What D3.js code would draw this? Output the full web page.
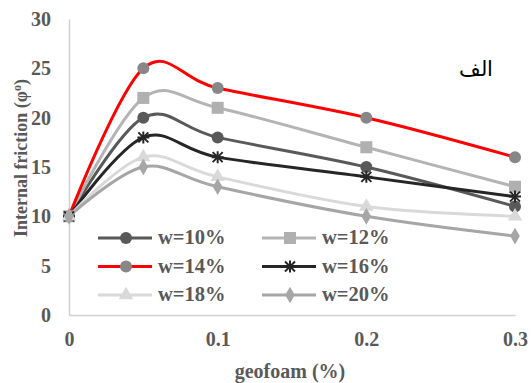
<!DOCTYPE html>
<html>
<head>
<meta charset="utf-8">
<script src="https://cdn.jsdelivr.net/npm/d3@7"></script>
<style>
  body { margin: 0; background: #fff; }
  text { font-family: "Liberation Serif", "Times New Roman", serif; }
</style>
</head>
<body>
<div id="chart"></div>
<script>
var svgWidth = 531;
var svgHeight = 383;

// data
var geofoam = [0, 0.05, 0.1, 0.2, 0.3];
var seriesNames = ["w=10%", "w=12%", "w=14%", "w=16%", "w=18%", "w=20%"];
var w10 = [10, 20, 18, 15, 11];
var w12 = [10, 22, 21, 17, 13];
var w14 = [10, 25, 23, 20, 16];
var w16 = [10, 18, 16, 14, 12];
var w18 = [10, 16, 14, 11, 10];
var w20 = [10, 15, 13, 10, 8];
var xTicks = [0, 0.1, 0.2, 0.3];
var yTicks = [0, 5, 10, 15, 20, 25, 30];

var styles = [
  { line: "#595959", fill: "#595959", shape: "circle" },
  { line: "#b4b4b4", fill: "#b0b0b0", shape: "square" },
  { line: "#ff0000", fill: "#878787", shape: "circle" },
  { line: "#262626", fill: "#262626", shape: "star" },
  { line: "#d9d9d9", fill: "#d9d9d9", shape: "triangle" },
  { line: "#a6a6a6", fill: "#a6a6a6", shape: "diamond" }
];

var allSeries = [w10, w12, w14, w16, w18, w20].map(function(vals, i) {
  return {
    name: seriesNames[i],
    style: styles[i],
    points: vals.map(function(v, j) { return { x: geofoam[j], y: v }; })
  };
});

var svg = d3.select("#chart")
  .append("svg")
  .attr("width", svgWidth)
  .attr("height", svgHeight);

var xScale = d3.scaleLinear().domain([0, 0.3]).range([69, 515]);
var yScale = d3.scaleLinear().domain([0, 30]).range([315, 19]);

// axes
var xAxis = svg.append("g")
  .attr("transform", "translate(0,315)")
  .call(d3.axisBottom(xScale).tickValues(xTicks).tickSize(0).tickPadding(17)
    .tickFormat(function(d) { return d === 0 ? "0" : d3.format(".1f")(d); }));

var yAxis = svg.append("g")
  .attr("transform", "translate(69,0)")
  .call(d3.axisLeft(yScale).tickValues(yTicks).tickSize(0).tickPadding(18));

[xAxis, yAxis].forEach(function(ax) {
  ax.select(".domain").attr("stroke", "#d0d0d0").attr("stroke-width", 1.5);
  ax.selectAll("text")
    .attr("font-family", "Liberation Serif, serif")
    .attr("font-size", 20)
    .attr("font-weight", "bold")
    .attr("fill", "#595959");
});

// axis titles
svg.append("text")
  .attr("x", 290)
  .attr("y", 378)
  .attr("text-anchor", "middle")
  .attr("font-size", 20)
  .attr("font-weight", "bold")
  .attr("fill", "#595959")
  .text("geofoam (%)");

var yTitle = svg.append("text")
  .attr("transform", "translate(27,158) rotate(-90)")
  .attr("text-anchor", "middle")
  .attr("font-size", 18)
  .attr("font-weight", "bold")
  .attr("fill", "#595959");
yTitle.append("tspan").text("Internal friction (φ");
yTitle.append("tspan").attr("dy", -6).attr("font-size", 12).text("o");
yTitle.append("tspan").attr("dy", 6).text(")");

// panel label
svg.append("text")
  .attr("x", 476)
  .attr("y", 76)
  .attr("text-anchor", "middle")
  .attr("font-family", "DejaVu Sans, sans-serif")
  .attr("font-size", 21)
  .attr("fill", "#000")
  .text("الف");

function drawMarker(g, shape, fill, cx, cy) {
  if (shape === "circle") {
    g.append("circle").attr("cx", cx).attr("cy", cy).attr("r", 6).attr("fill", fill);
  } else if (shape === "square") {
    g.append("rect").attr("x", cx - 6).attr("y", cy - 6).attr("width", 12).attr("height", 12).attr("fill", fill);
  } else if (shape === "triangle") {
    g.append("path").attr("transform", `translate(${cx},${cy})`)
      .attr("d", d3.symbol().type(d3.symbolTriangle).size(90)()).attr("fill", fill);
  } else if (shape === "diamond") {
    g.append("path").attr("transform", `translate(${cx},${cy})`)
      .attr("d", d3.symbol().type(d3.symbolDiamond).size(80)()).attr("fill", fill);
  } else if (shape === "star") {
    g.append("path").attr("transform", `translate(${cx},${cy})`)
      .attr("d", "M-6,0H6M0,-6V6M-5,-5L5,5M-5,5L5,-5")
      .attr("stroke", fill).attr("stroke-width", 2).attr("fill", "none");
  }
}

var line = d3.line()
  .x(function(d) { return xScale(d.x); })
  .y(function(d) { return yScale(d.y); })
  .curve(d3.curveCardinal.tension(0));

var seriesGroup = svg.append("g");
allSeries.forEach(function(s) {
  seriesGroup.append("path")
    .datum(s.points)
    .attr("d", line)
    .attr("fill", "none")
    .attr("stroke", s.style.line)
    .attr("stroke-width", 3);
});
allSeries.forEach(function(s) {
  var g = seriesGroup.append("g");
  s.points.forEach(function(p) {
    drawMarker(g, s.style.shape, s.style.fill, xScale(p.x), yScale(p.y));
  });
});

// legend
var legend = svg.append("g");
allSeries.forEach(function(s, i) {
  var col = i % 2;
  var row = Math.floor(i / 2);
  var lx = col === 0 ? 98 : 262;
  var ly = 238 + row * 28.5;
  legend.append("line")
    .attr("x1", lx).attr("x2", lx + 54)
    .attr("y1", ly).attr("y2", ly)
    .attr("stroke", s.style.line)
    .attr("stroke-width", 3);
  drawMarker(legend, s.style.shape, s.style.fill, lx + 28, ly);
  legend.append("text")
    .attr("x", lx + 60)
    .attr("y", ly + 6)
    .attr("font-size", 20.5)
    .attr("font-weight", "bold")
    .attr("fill", "#595959")
    .text(s.name);
});
</script>
</body>
</html>
